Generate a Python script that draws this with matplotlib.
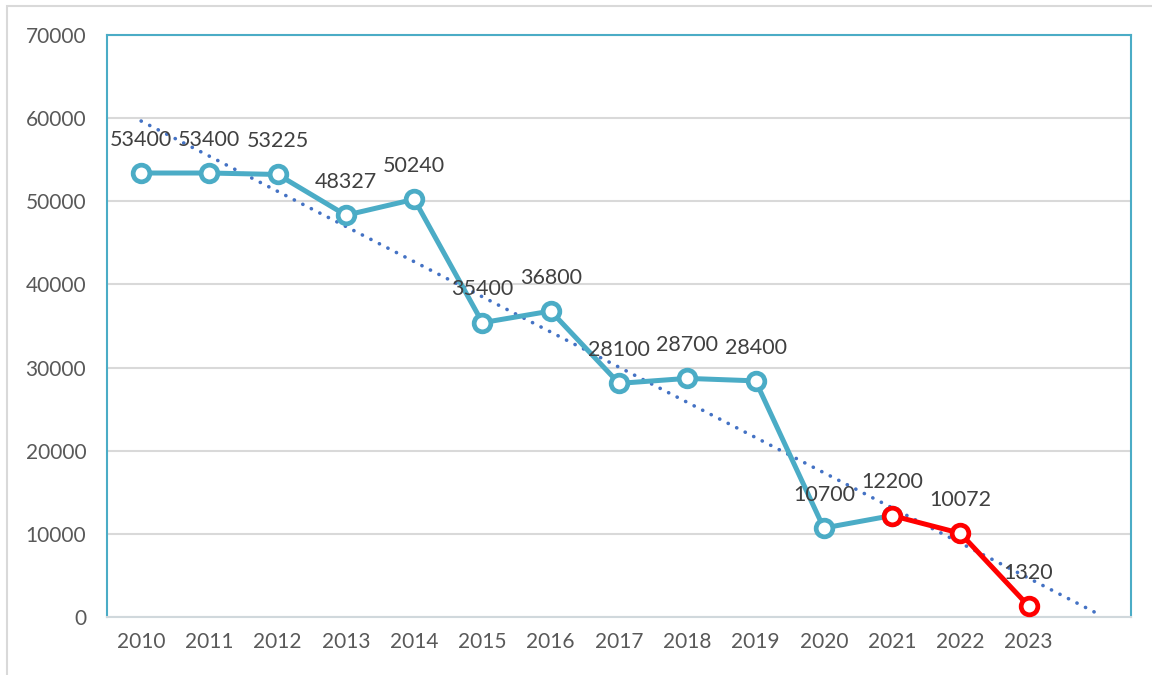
import matplotlib.pyplot as plt
import numpy as np
from matplotlib.patches import Rectangle

years = ['2010', '2011', '2012', '2013', '2014', '2015', '2016',
         '2017', '2018', '2019', '2020', '2021', '2022', '2023']
values = [53400, 53400, 53225, 48327, 50240, 35400, 36800,
          28100, 28700, 28400, 10700, 12200, 10072, 1320]
red_from = '2021'   # series turns red from this year on

plt.rcParams['font.family'] = ['Lato', 'DejaVu Sans']

teal = '#4BACC6'
red = '#FF0000'
x = np.arange(len(years))
y = np.array(values)
k = years.index(red_from)

fig = plt.figure(figsize=(11.52, 6.75), dpi=100)
# outer chart frame
fig.patches.append(Rectangle((7/1152, -0.1), 1.2, 1 - 6/675 + 0.1, transform=fig.transFigure,
                             fill=False, edgecolor='#d9d9d9', lw=1.5))
ax = fig.add_axes([107/1152, 1 - 617/675, 1024/1152, 582/675])

# linear trend, forecast one period forward
a, b = np.polyfit(x + 1, y, 1)
xt = np.array([0, len(years)])
ax.plot(xt, a*(xt + 1) + b, ls=(0, (0.05, 2.6)), color='#4472C4', lw=2.6,
        dash_capstyle='round', zorder=3)

ax.plot(x[:k+1], y[:k+1], '-o', color=teal, lw=3.6, ms=12, mew=3.4,
        mfc='white', mec=teal, zorder=4)
ax.plot(x[k:], y[k:], '-o', color=red, lw=3.6, ms=12, mew=3.4,
        mfc='white', mec=red, zorder=5)

for xi, yi in zip(x, y):
    ax.annotate(str(yi), (xi, yi), xytext=(0, 24), textcoords='offset points',
                ha='center', va='center', fontsize=15.5, color='#404040', zorder=6)

ax.set_xlim(-0.5, len(years) + 0.5)
ax.set_ylim(0, 70000)
ax.set_yticks(np.arange(0, 70001, 10000))
ax.set_xticks(x)
ax.set_xticklabels(years)
ax.tick_params(length=0, labelsize=15, colors='#595959')
ax.tick_params(axis='y', pad=15)
ax.tick_params(axis='x', pad=11)
ax.grid(axis='y', color='#d9d9d9', lw=1.5)
ax.set_axisbelow(True)
for s in ['left', 'top', 'right']:
    ax.spines[s].set_color(teal)
    ax.spines[s].set_linewidth(1.5)
ax.spines['bottom'].set_color('#d0d8dc')
ax.spines['bottom'].set_linewidth(1.5)

fig.savefig('out.png', dpi=100)
